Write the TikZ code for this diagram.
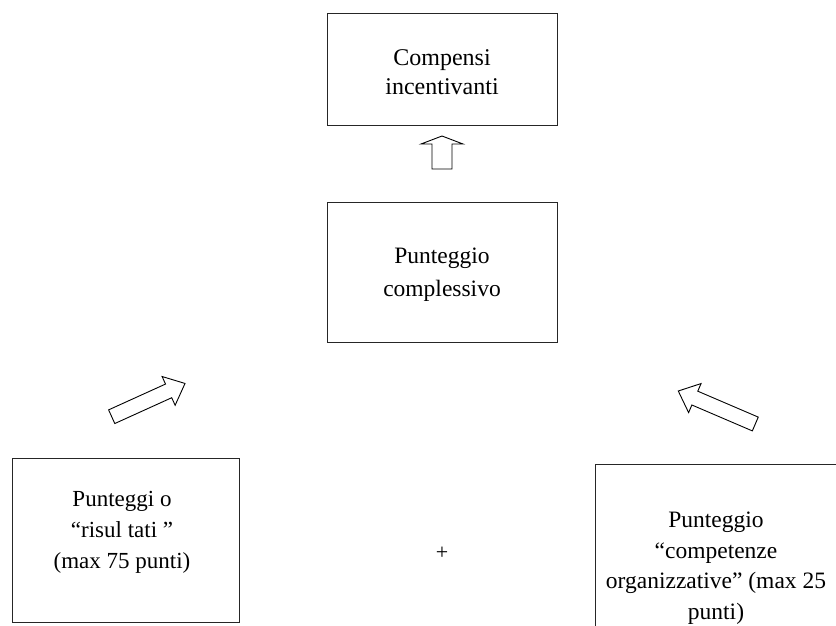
\documentclass[tikz,border=0pt]{standalone}
\usepackage{fontspec}
\setmainfont{Liberation Serif}
\newcommand\barrowpath[4]{(0,-#4) -- ({#1-#2},-#4) -- ({#1-#2},-#3) -- (#1,0) -- ({#1-#2},#3) -- ({#1-#2},#4) -- (0,#4) -- cycle}
\begin{document}
\begin{tikzpicture}[x=1pt,y=-1pt,
  box/.style={draw=black!85, line width=1pt, inner sep=0pt},
  txt/.style={align=center, inner sep=0pt},
  blockarrow/.style={draw=black, line width=0.9pt, fill=white, line join=miter}]
\useasboundingbox (0,0) rectangle (836,625);
\clip (0,0) rectangle (836,625);
% boxes
\node[box, minimum width=230pt, minimum height=112pt] (top) at (442,69) {};
\node[box, minimum width=230pt, minimum height=140pt] (mid) at (442,272) {};
\node[box, minimum width=227pt, minimum height=164pt] (left) at (125.5,540) {};
\draw[draw=black!85, line width=1pt] (595,640) -- (595,464) -- (850,464);
% texts
\node[txt, font=\fontsize{24}{29}\selectfont] (toptxt) at (442,72) {Compensi\\incentivanti};
\node[txt, font=\fontsize{23.5}{33}\selectfont] (midtxt) at (442,275) {Punteggio\\complessivo};
\node[txt, font=\fontsize{23}{31}\selectfont] (lefttxt) at (122,532) {Punteggi o\\“risul tati ”\\(max 75 punti)};
\node[txt, font=\fontsize{23.5}{30.5}\selectfont] (righttxt) at (716,568) {Punteggio\\“competenze\\organizzative” (max 25\\punti)};
\node[inner sep=0pt, font=\fontsize{22}{26}\selectfont] (plus) at (442,553) {+};
% block arrows
\begin{scope}[shift={(442,169)}, rotate=90]
  \draw[blockarrow] \barrowpath{33}{8}{21}{10};
\end{scope}
\begin{scope}[shift={(111.7,416.7)}, rotate=24.4]
  \draw[blockarrow] \barrowpath{80.5}{18}{15.8}{7.5};
\end{scope}
\begin{scope}[shift={(755.3,424)}, rotate=156.8]
  \draw[blockarrow] \barrowpath{83.8}{18}{15.8}{7.5};
\end{scope}
\end{tikzpicture}
\end{document}
